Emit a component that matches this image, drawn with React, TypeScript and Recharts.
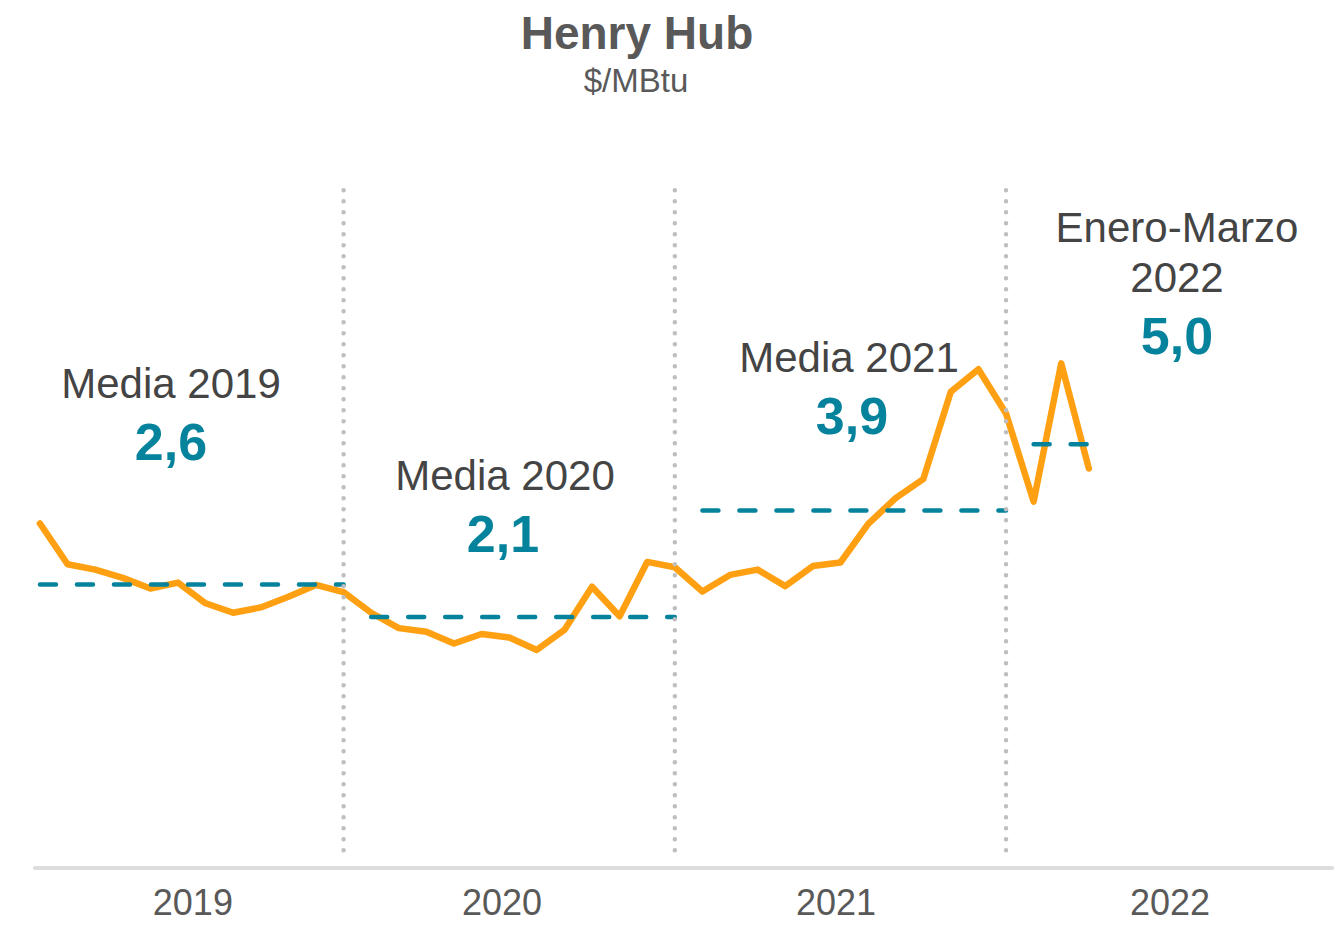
import React from 'react';
import { LineChart, Line, XAxis, YAxis, ReferenceLine } from 'recharts';

// monthly Henry Hub price, $/MBtu (Jan 2019 - Mar 2022)
const prices2019 = [3.66, 2.97, 2.88, 2.74, 2.56, 2.66, 2.31, 2.15, 2.24, 2.42, 2.62, 2.5];
const prices2020 = [2.15, 1.89, 1.83, 1.63, 1.79, 1.73, 1.52, 1.86, 2.59, 2.09, 3.01, 2.92];
const prices2021 = [2.51, 2.79, 2.88, 2.6, 2.94, 3.0, 3.65, 4.09, 4.41, 5.89, 6.27, 5.52];
const prices2022 = [4.03, 6.37, 4.59];

// period averages and the month indexes they span
const periodMeans = [2.63, 2.08, 3.88, 5.0];
const periodStart = [0, 12, 24, 36];
const periodEnd = [11, 23, 35, 38];
const meanLabels = ['2,6', '2,1', '3,9', '5,0'];

// year separators (Dec of each year)
const dividers = [11, 23, 35];

const yearLabels = ['2019', '2020', '2021', '2022'];
const yearTickPos = [5.54, 16.74, 28.84, 40.94];

const chartData = [...prices2019, ...prices2020, ...prices2021, ...prices2022].map((v, i) => ({
  m: i,
  price: v,
}));

const FONT = '"Liberation Sans", Arial, sans-serif';
const TEAL = '#05829C';
const ORANGE = '#FFA012';

export default function App() {
  return (
    <div style={{ position: 'absolute', left: 0, top: 0, width: 1342, height: 926, background: '#fff' }}>
      <LineChart
        width={1342}
        height={926}
        data={chartData}
        margin={{ top: 188, right: 10, left: 35, bottom: 0 }}
      >
        <XAxis
          dataKey="m"
          type="number"
          domain={[-0.18, 46.81]}
          allowDataOverflow
          ticks={yearTickPos}
          interval={0}
          tickFormatter={(v: number) => yearLabels[yearTickPos.indexOf(v)] ?? ''}
          tickLine={false}
          tickSize={0}
          tickMargin={21}
          height={58}
          axisLine={{ stroke: '#DDDDDD', strokeWidth: 4, strokeLinecap: 'round' }}
          tick={{ fill: '#595959', fontSize: 36, fontFamily: FONT }}
        />
        <YAxis hide type="number" domain={[-2.169, 9.337]} allowDataOverflow />
        <Line
          type="linear"
          dataKey="price"
          stroke={ORANGE}
          strokeWidth={6.5}
          strokeLinejoin="round"
          strokeLinecap="round"
          dot={false}
          isAnimationActive={false}
        />
        {periodMeans.map((v, i) => (
          <ReferenceLine
            key={'mean' + i}
            segment={[
              { x: periodStart[i], y: v },
              { x: periodEnd[i], y: v },
            ]}
            stroke={TEAL}
            strokeWidth={4.5}
            strokeDasharray="16 21"
            strokeLinecap="round"
            ifOverflow="visible"
          />
        ))}
        {dividers.map((x) => (
          <ReferenceLine
            key={'div' + x}
            segment={[
              { x, y: 9.3 },
              { x, y: -2.0 },
            ]}
            stroke="#BFBFBF"
            strokeWidth={4.5}
            strokeDasharray="0 11"
            strokeLinecap="round"
            ifOverflow="visible"
          />
        ))}
      </LineChart>
      <svg
        width={1342}
        height={926}
        style={{ position: 'absolute', left: 0, top: 0, pointerEvents: 'none' }}
        fontFamily={FONT}
      >
        <text x={637} y={49} textAnchor="middle" fontSize={46} fontWeight="bold" fill="#595959">
          Henry Hub
        </text>
        <text x={636} y={92} textAnchor="middle" fontSize={33} fill="#595959">
          $/MBtu
        </text>

        <text x={171} y={398} textAnchor="middle" fontSize={42} fill="#444444">
          Media 2019
        </text>
        <text x={171} y={460} textAnchor="middle" fontSize={52} fontWeight="bold" fill={TEAL}>
          {meanLabels[0]}
        </text>

        <text x={505} y={490} textAnchor="middle" fontSize={42} fill="#444444">
          Media 2020
        </text>
        <text x={503} y={552} textAnchor="middle" fontSize={52} fontWeight="bold" fill={TEAL}>
          {meanLabels[1]}
        </text>

        <text x={849} y={372} textAnchor="middle" fontSize={42} fill="#444444">
          Media 2021
        </text>
        <text x={852} y={434} textAnchor="middle" fontSize={52} fontWeight="bold" fill={TEAL}>
          {meanLabels[2]}
        </text>

        <text x={1177} y={242} textAnchor="middle" fontSize={42} fill="#444444">
          Enero-Marzo
        </text>
        <text x={1177} y={292} textAnchor="middle" fontSize={42} fill="#444444">
          2022
        </text>
        <text x={1177} y={354} textAnchor="middle" fontSize={52} fontWeight="bold" fill={TEAL}>
          {meanLabels[3]}
        </text>
      </svg>
    </div>
  );
}
